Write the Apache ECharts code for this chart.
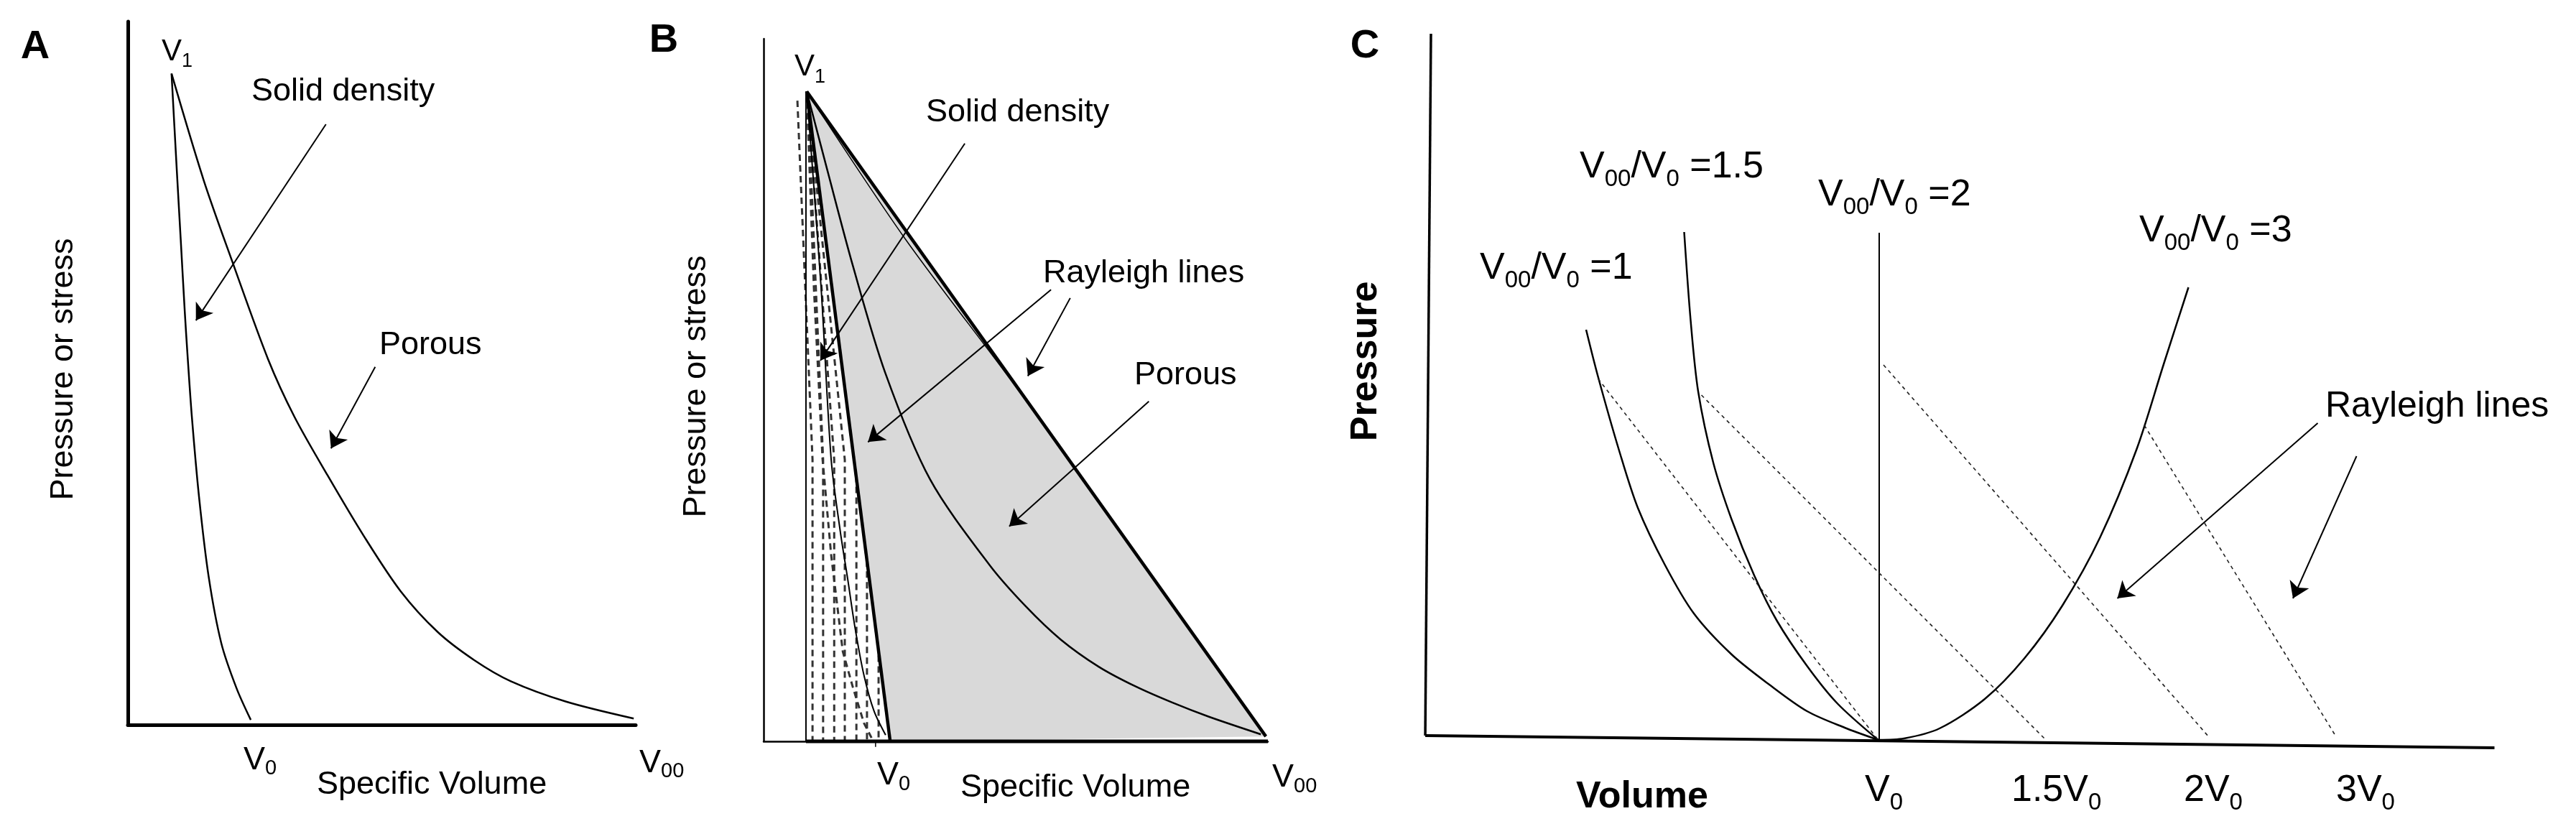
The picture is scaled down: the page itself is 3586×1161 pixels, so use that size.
<!DOCTYPE html>
<html>
<head>
<meta charset="utf-8">
<title>Hugoniot curves and Rayleigh lines</title>
<script src="https://cdn.jsdelivr.net/npm/echarts@6/dist/echarts.min.js"></script>
<style>
  html, body { margin: 0; background: #fff; }
  #chart { width: 3586px; height: 1161px; }
</style>
</head>
<body>
<div id="chart"></div>
<script>
// values are in panel units: x 0..100 along the volume axis, y 0..100 up the pressure axis

// panel A
const aSolid = [[8.6, 92.6], [9.6, 79.3], [10.4, 69.1], [11.2, 58.8], [11.8, 52.0], [12.6, 43.8], [14.0, 32.5], [15.9, 21.1], [18.4, 11.6], [21.4, 5.2], [24.2, 0.7]]
const aPorous = [[8.6, 92.6], [14.9, 77.5], [20.5, 66.0], [27.6, 52.0], [32.8, 43.8], [39.3, 35.5], [46.5, 26.8], [53.7, 19.0], [61.0, 13.2], [68.2, 9.2], [75.4, 6.2], [86.3, 3.3], [99.6, 0.9]]
const aArrows = [[[39.0, 85.4], [13.4, 57.5]], [[48.7, 50.9], [40.0, 39.3]]]

// panel B
const bApex = [8.55, 92.5]
const bTriangle = [bApex, [25.1, 0], [99.6, 0.7]]
const bInnerEdge = [bApex, [28.1, 71.5], [51.0, 49.5], [99.6, 0.7]]
const bPorous = [bApex, [12.6, 81.4], [17.7, 67.7], [24.1, 52.5], [33.0, 37.3], [44.8, 25.1], [52.0, 19.2], [58.9, 14.5], [66.5, 10.6], [73.8, 7.8], [81.1, 5.5], [88.3, 3.5], [98.6, 1.0]]
const bSolid = [bApex, [11.4, 64.6], [13.4, 40.1], [15.2, 29.9], [16.7, 23.0], [18.1, 16.3], [19.9, 9.4], [21.9, 4.3], [24.2, 0.9]]
const bDashedCurve = [bApex, [9.97, 64.6], [11.7, 40.1], [13.4, 26.5], [15.7, 12.8], [17.7, 7.7], [19.9, 2.6], [21.4, 0.5]]
const bDashedFirst = [[6.7, 91.2], [9.7, 40.1], [9.7, 0]]
const bDashedX = [11.8, 14.0, 16.1, 18.4, 20.5, 22.8]
const bDashedTop = [8.8, 91.0]
const bDashedKnee = 40.1
const bStartLineX = 8.4
const bV0Tick = 22.2
const bArrows = [
  [[39.9, 85.1], [11.25, 54.2]],
  [[57.0, 64.3], [20.7, 42.6]],
  [[60.8, 63.1], [52.4, 52.0]],
  [[76.4, 48.4], [48.7, 30.6]]
]

// panel C
const cYAxis = [[0.8, 100], [0.27, 2.3]]
const cXAxis = [[0.27, 2.3], [99.5, 0.6]]
const cRatio1 = [[15.2, 58.8], [16.3, 52.3], [18.3, 41.8], [20.0, 34.0], [22.5, 26.1], [25.2, 19.3], [28.7, 13.6], [32.2, 9.4], [35.7, 5.7], [39.2, 3.4], [42.3, 1.7]]
const cRatio15 = [[24.3, 72.4], [24.9, 60.1], [25.6, 50.2], [27.0, 40.3], [28.7, 32.4], [30.8, 24.6], [32.9, 18.3], [35.7, 12.0], [38.5, 6.8], [42.3, 1.7]]
const cRatio2 = [[42.4, 72.3], [42.4, 1.7]]
const cRatio3 = [[42.3, 1.7], [44.7, 1.9], [48.0, 3.3], [52.2, 7.4], [55.9, 13.1], [59.4, 20.4], [62.9, 29.9], [66.3, 42.2], [68.8, 54.0], [71.1, 64.7]]
const cRayleigh = [
  [[16.3, 52.0], [42.3, 1.7]],
  [[25.9, 49.7], [57.8, 1.8]],
  [[42.8, 53.9], [73.0, 2.1]],
  [[67.0, 45.5], [84.7, 2.4]]
]
const cArrows = [[[83.1, 45.8], [64.5, 21.4]], [[86.7, 41.2], [80.8, 21.4]]]

// texts
const ratioLabels = ['1', '1.5', '2', '3']
const cTicks = [['V', '0'], ['1.5V', '0'], ['2V', '0'], ['3V', '0']]

const FONT = '"Liberation Sans", Arial, Helvetica, sans-serif'

function line(gi, data, width, extra) {
  return Object.assign({
    type: 'line',
    xAxisIndex: gi,
    yAxisIndex: gi,
    data,
    symbol: 'none',
    clip: false,
    silent: true,
    z: 4,
    lineStyle: { color: '#000', width }
  }, extra)
}
const curve = (gi, data, width) => line(gi, data, width, { smooth: 0.3 })
const dashed = (gi, data, width, dash, color, z) =>
  line(gi, data, width, { z: z || 4, lineStyle: { color, width, type: dash } })

function arrows(gi, list) {
  return {
    type: 'line',
    xAxisIndex: gi,
    yAxisIndex: gi,
    data: [],
    silent: true,
    z: 5,
    markLine: {
      silent: true,
      animation: false,
      symbol: ['none', 'arrow'],
      symbolSize: 22,
      label: { show: false },
      emphasis: { disabled: true },
      lineStyle: { color: '#000', width: 2, type: 'solid' },
      data: list.map((a) => [{ coord: a[0] }, { coord: a[1] }])
    }
  }
}

// plain text, y is the baseline
function plain(x, baseline, text, size, opts = {}) {
  return {
    type: 'text',
    x,
    y: baseline - 0.3465 * size,
    silent: true,
    style: {
      text,
      fontSize: size,
      fontFamily: FONT,
      fontWeight: opts.bold ? 'bold' : 'normal',
      fill: '#000',
      align: opts.align || 'left',
      verticalAlign: 'middle'
    }
  }
}
// rotated label, centred on (x, y)
function vertical(x, y, text, size, bold) {
  return {
    type: 'text',
    x,
    y,
    rotation: Math.PI / 2,
    silent: true,
    style: {
      text,
      fontSize: size,
      fontFamily: FONT,
      fontWeight: bold ? 'bold' : 'normal',
      fill: '#000',
      align: 'center',
      verticalAlign: 'middle'
    }
  }
}
// text with subscripts; parts = [[text, 'm' | 's'], ...]
function subText(left, baseline, parts, size, sub, drop) {
  const pad = Math.round(drop + 0.8465 * (size - sub))
  return {
    type: 'text',
    x: left,
    y: baseline - 0.8465 * size,
    silent: true,
    style: {
      text: parts.map((p) => `{${p[1]}|${p[0]}}`).join(''),
      fill: '#000',
      align: 'left',
      verticalAlign: 'top',
      rich: {
        m: { fontSize: size, fontFamily: FONT, fill: '#000', verticalAlign: 'top' },
        s: { fontSize: sub, fontFamily: FONT, fill: '#000', verticalAlign: 'top', padding: [pad, 0, 0, 0] }
      }
    }
  }
}
const ratio = (left, baseline, r) =>
  subText(left, baseline, [['V', 'm'], ['00', 's'], ['/V', 'm'], ['0', 's'], [' =' + r, 'm']], 52, 33, 10)

const grids = [
  { left: 178, top: 30, width: 707, height: 979 },
  { left: 1063, top: 54, width: 702, height: 978 },
  { left: 1980, top: 47, width: 1500, height: 1000 }
]
const axisWidth = [5, 2.5]
function axis(i) {
  return {
    gridIndex: i,
    type: 'value',
    min: 0,
    max: 100,
    show: i < 2,
    axisLine: { show: true, onZero: true, lineStyle: { color: '#000', width: axisWidth[i] || 1 } },
    axisTick: { show: false },
    axisLabel: { show: false },
    splitLine: { show: false }
  }
}

const series = [
  // A
  curve(0, aSolid, 2.5),
  curve(0, aPorous, 2.5),
  arrows(0, aArrows),
  // B
  dashed(1, bDashedFirst, 3, [9, 6], '#333', 2),
  ...bDashedX.map((x) => dashed(1, [bDashedTop, [x, bDashedKnee], [x, 0]], 3, [9, 6], '#333', 2)),
  {
    type: 'custom',
    xAxisIndex: 1,
    yAxisIndex: 1,
    silent: true,
    clip: false,
    z: 3,
    data: [[0, 0]],
    renderItem: (params, api) => ({
      type: 'polygon',
      shape: { points: bTriangle.map((p) => api.coord(p)) },
      style: { fill: '#d9d9d9', stroke: 'none' }
    })
  },
  line(1, [[bStartLineX, bApex[1]], [bStartLineX, 0]], 2),
  dashed(1, bDashedCurve, 3, [9, 6], '#333', 4),
  curve(1, bSolid, 2),
  curve(1, bPorous, 2.5),
  line(1, bInnerEdge, 1.5, { smooth: 0.3 }),
  line(1, [bTriangle[0], bTriangle[1]], 4.5),
  line(1, [bTriangle[0], bTriangle[2]], 4.5),
  line(1, [[bStartLineX, 0], [100, 0]], 5),
  line(1, [[bV0Tick, 0], [bV0Tick, -0.8]], 1.5),
  arrows(1, bArrows),
  // C
  line(2, cYAxis, 3.5),
  line(2, cXAxis, 4),
  curve(2, cRatio1, 2.5),
  curve(2, cRatio15, 2.5),
  line(2, cRatio2, 2),
  curve(2, cRatio3, 2.5),
  ...cRayleigh.map((d) => dashed(2, d, 1.6, [5, 5], '#222', 4)),
  arrows(2, cArrows)
]

const graphic = [
  // A
  plain(49, 85, 'A', 56, { bold: true, align: 'center' }),
  subText(225, 87, [['V', 'm'], ['1', 's']], 42, 27, 8),
  plain(350, 143, 'Solid density', 45),
  plain(528, 496, 'Porous', 45),
  vertical(89, 514, 'Pressure or stress', 45),
  subText(339, 1074, [['V', 'm'], ['0', 's']], 45, 29, 6),
  subText(890, 1078, [['V', 'm'], ['00', 's']], 45, 29, 6),
  plain(441, 1108, 'Specific Volume', 45),
  // B
  plain(924, 76, 'B', 56, { bold: true, align: 'center' }),
  subText(1106, 108, [['V', 'm'], ['1', 's']], 42, 27, 9),
  plain(1289, 172, 'Solid density', 45),
  plain(1452, 396, 'Rayleigh lines', 45),
  plain(1579, 538, 'Porous', 45),
  vertical(970, 538, 'Pressure or stress', 45),
  subText(1221, 1095, [['V', 'm'], ['0', 's']], 45, 29, 7),
  subText(1771, 1098, [['V', 'm'], ['00', 's']], 45, 29, 7),
  plain(1337, 1112, 'Specific Volume', 45),
  // C
  plain(1900, 84, 'C', 56, { bold: true, align: 'center' }),
  vertical(1902, 503, 'Pressure', 52, true),
  ratio(2060, 392, ratioLabels[0]),
  ratio(2199, 251, ratioLabels[1]),
  ratio(2531, 290, ratioLabels[2]),
  ratio(2978, 340, ratioLabels[3]),
  plain(3237, 584, 'Rayleigh lines', 50),
  plain(2194, 1128, 'Volume', 52, { bold: true }),
  ...cTicks.map((t, i) => subText([2596, 2800, 3040, 3252][i], 1119, [[t[0], 'm'], [t[1], 's']], 52, 33, 10))
]

const chart = echarts.init(document.getElementById('chart'))
chart.setOption({
  backgroundColor: '#fff',
  animation: false,
  grid: grids.map((g) => Object.assign({ outerBoundsMode: 'none', containLabel: false }, g)),
  xAxis: [0, 1, 2].map(axis),
  yAxis: [0, 1, 2].map(axis),
  series,
  graphic
})
</script>
</body>
</html>
